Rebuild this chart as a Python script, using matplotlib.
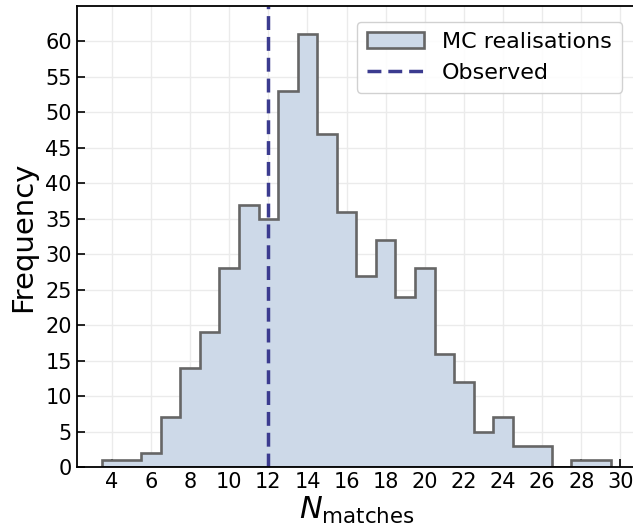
import numpy as np
import matplotlib
matplotlib.use("Agg")
import matplotlib.pyplot as plt

# bin centres and counts of the MC realisations
n_matches = [4, 5, 6, 7, 8, 9, 10, 11, 12, 13, 14, 15, 16, 17, 18, 19, 20,
             21, 22, 23, 24, 25, 26, 27, 28, 29]
counts = [1, 1, 2, 7, 14, 19, 28, 37, 35, 53, 61, 47, 36, 27, 32, 24, 28,
          16, 12, 5, 7, 3, 3, 0, 1, 1]
observed = 12

edges = np.arange(min(n_matches) - 0.5, max(n_matches) + 1.5, 1)

fig = plt.figure(figsize=(6.33, 5.32), dpi=100)
ax = fig.add_axes([76.7 / 633, 65 / 532, (636 - 76.7) / 633, (467 - 6) / 532])

ax.hist(n_matches, bins=edges, weights=counts, histtype='stepfilled',
        facecolor='#cdd9e8', edgecolor='#666666', linewidth=1.9,
        label='MC realisations')
ax.axvline(observed, color='#3b3b8f', linestyle='--', linewidth=2.5,
           dashes=(4, 2), label='Observed')

ax.set_ylim(0, 65)
ax.set_xticks(np.arange(4, 31, 2))
ax.set_yticks(np.arange(0, 61, 5))
ax.tick_params(direction='in', length=6, width=1.2, labelsize=15)
ax.grid(True, color='#ebebeb', linewidth=1)
ax.set_axisbelow(True)
for s in ax.spines.values():
    s.set_linewidth(1.3)

ax.set_xlabel(r'$N_{\mathrm{matches}}$', fontsize=22, labelpad=2)
ax.set_ylabel('Frequency', fontsize=21, labelpad=6)
ax.legend(loc='upper right', fontsize=16, bbox_to_anchor=(0.995, 0.99),
          handlelength=2.6, borderpad=0.45, framealpha=0.9)

fig.savefig('out.png', dpi=100)
